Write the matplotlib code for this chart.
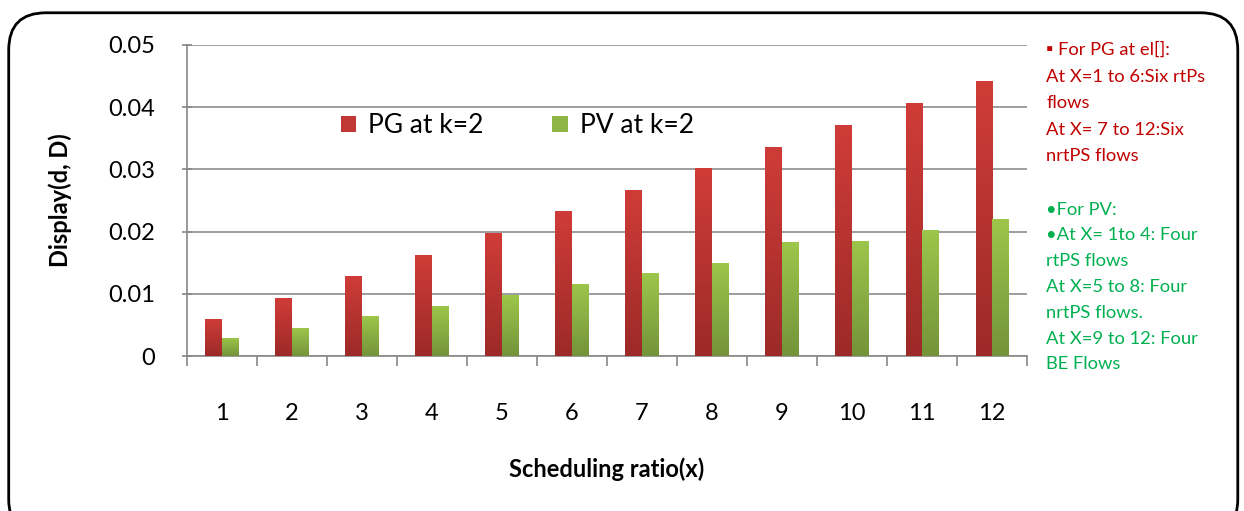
import numpy as np
import matplotlib.pyplot as plt
from matplotlib.patches import FancyBboxPatch, Patch
from matplotlib.colors import LinearSegmentedColormap

plt.rcParams['font.family'] = ['Lato', 'DejaVu Sans']

ratios = [1, 2, 3, 4, 5, 6, 7, 8, 9, 10, 11, 12]
pg_k2 = [0.0060, 0.0093, 0.0129, 0.0162, 0.0198, 0.0233, 0.0267, 0.0302, 0.0336, 0.0371, 0.0407, 0.0442]
pv_k2 = [0.0029, 0.0045, 0.0064, 0.0080, 0.0098, 0.0116, 0.0133, 0.0150, 0.0183, 0.0185, 0.0203, 0.0220]
yticks = [0, 0.01, 0.02, 0.03, 0.04, 0.05]
ytick_labels = ['0', '0.01', '0.02', '0.03', '0.04', '0.05']

red_note = ['\u25aa For PG at el[]:', 'At X=1 to 6:Six rtPs', 'flows',
            'At X= 7 to 12:Six', 'nrtPS flows']
green_note = ['\u2022For PV:', '\u2022At X= 1to 4: Four', 'rtPS flows',
              'At X=5 to 8: Four', 'nrtPS flows.', 'At X=9 to 12: Four', 'BE Flows']

red_cmap = LinearSegmentedColormap.from_list('r', ['#9C2A28', '#D03C38'])
green_cmap = LinearSegmentedColormap.from_list('g', ['#74933A', '#9DC64B'])


def gradient_bars(ax, x, heights, width, cmap):
    bars = ax.bar(x, heights, width, color='none', edgecolor='none', zorder=3)
    grad = np.linspace(0, 1, 256).reshape(-1, 1)
    for b in bars:
        x0, y0 = b.get_x(), b.get_y()
        w, h = b.get_width(), b.get_height()
        im = ax.imshow(grad, cmap=cmap, origin='lower', aspect='auto',
                       extent=[x0, x0 + w, y0, y0 + h], zorder=3)
        im.set_clip_path(b)
    return bars


fig = plt.figure(figsize=(12.44, 5.11), dpi=100)
ax = fig.add_axes([0.150, 0.3033, 0.6756, 0.6087])

x = np.arange(len(ratios))
w = 0.235
gradient_bars(ax, x - w / 2, pg_k2, w, red_cmap)
gradient_bars(ax, x + w / 2, pv_k2, w, green_cmap)

ax.set_xlim(-0.5, len(ratios) - 0.5)
ax.set_ylim(0, 0.05)
ax.set_yticks(yticks)
ax.set_yticklabels(ytick_labels, fontsize=17)
ax.set_xticks(x)
ax.set_xticklabels([str(r) for r in ratios], fontsize=17)
ax.tick_params(axis='x', length=0, pad=34)
ax.set_xticks(np.arange(-0.5, len(ratios)), minor=True)
ax.tick_params(axis='x', which='minor', length=7, color='#888888', width=1.2, direction='out')
ax.tick_params(axis='y', length=7, direction='inout', color='#888888', width=1.2, pad=19)
ax.grid(axis='y', color='#8c8c8c', linewidth=1.2, zorder=0)
ax.set_axisbelow(True)
for s in ['top', 'right']:
    ax.spines[s].set_visible(False)
for s in ['left', 'bottom']:
    ax.spines[s].set_color('#888888')
    ax.spines[s].set_linewidth(1.2)

ax.set_ylabel('Display(d, D)', fontsize=17, fontweight='bold', labelpad=26)
ax.set_xlabel('Scheduling ratio(x)', fontsize=17, fontweight='bold', labelpad=24)

handles = [Patch(facecolor='#C13733', label='PG at k=2'),
           Patch(facecolor='#8DB444', label='PV at k=2')]
ax.legend(handles=handles, loc='center left', bbox_to_anchor=(0.155, 0.74), ncol=2,
          frameon=False, fontsize=19, handlelength=0.6, handleheight=0.6,
          columnspacing=2.6, handletextpad=0.45)

y = 0.902
for line in red_note:
    fig.text(0.841, y, line, color='#C00000', fontsize=13.2, va='center')
    y -= 0.052
y -= 0.052
for line in green_note:
    fig.text(0.841, y, line, color='#00B050', fontsize=13.2, va='center')
    y -= 0.0505

border = FancyBboxPatch((0.007, -0.05), 0.988, 1.025, boxstyle='round,pad=0,rounding_size=0.03',
                        transform=fig.transFigure, facecolor='none', edgecolor='black',
                        linewidth=2, mutation_aspect=2.43)
fig.patches.append(border)

fig.savefig('out.png', dpi=100)
